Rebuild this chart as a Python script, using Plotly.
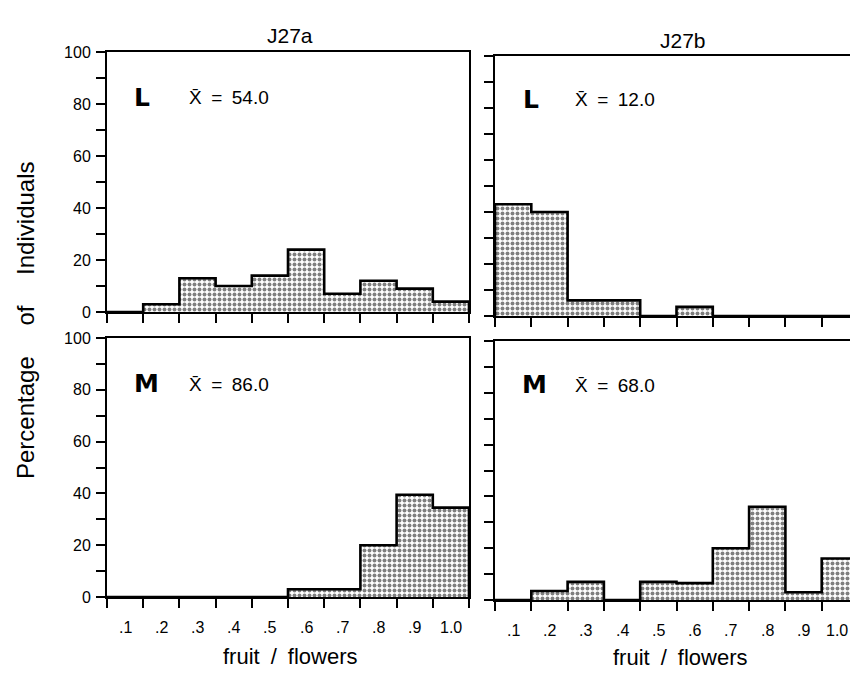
import plotly.graph_objects as go

# ---------------- data ----------------
bin_edges = [0.0, 0.1, 0.2, 0.3, 0.4, 0.5, 0.6, 0.7, 0.8, 0.9, 1.0]
bin_labels = [".1", ".2", ".3", ".4", ".5", ".6", ".7", ".8", ".9", "1.0"]
y_ticks = [0, 10, 20, 30, 40, 50, 60, 70, 80, 90, 100]
y_ticklabels = ["0", "", "20", "", "40", "", "60", "", "80", "", "100"]

j27a_L = [0, 3, 13, 10, 14, 24, 7, 12, 9, 4]
j27b_L = [43, 40, 6, 6, 0, 3.5, 0, 0, 0, 0]
j27a_M = [0, 0, 0, 0, 0, 3, 3, 20, 39.5, 34.5]
j27b_M = [0, 3.5, 7, 0, 7, 6.5, 20, 36, 3, 16]

column_titles = ["J27a", "J27b"]
means = {"J27a_L": "54.0", "J27b_L": "12.0", "J27a_M": "86.0", "J27b_M": "68.0"}

FONT = "Liberation Sans"
W, H, OFF = 842, 662, 8  # page = figure + 8px body margin on every side


def fx(x):
    return (x - OFF) / W


def fy(y):
    return 1 - (y - OFF) / H


centers = [(bin_edges[i] + bin_edges[i + 1]) / 2 for i in range(len(bin_edges) - 1)]


def outline(values):
    xs, ys = [bin_edges[0]], [0]
    for i, v in enumerate(values):
        xs += [bin_edges[i], bin_edges[i + 1]]
        ys += [v, v]
    xs.append(bin_edges[-1])
    ys.append(0)
    return xs, ys


panels = [
    (j27a_L, "x", "y"),
    (j27b_L, "x2", "y2"),
    (j27a_M, "x3", "y3"),
    (j27b_M, "x4", "y4"),
]

fig = go.Figure()
for vals, xa, ya in panels:
    fig.add_trace(go.Bar(
        x=centers, y=vals, width=0.1, xaxis=xa, yaxis=ya,
        marker=dict(color="white", line=dict(width=0),
                    pattern=dict(shape=".", fgcolor="black", bgcolor="white",
                                 size=5, solidity=0.5)),
        showlegend=False, hoverinfo="skip"))
    ox, oy = outline(vals)
    fig.add_trace(go.Scatter(
        x=ox, y=oy, mode="lines", xaxis=xa, yaxis=ya,
        line=dict(color="black", width=2.6), showlegend=False, hoverinfo="skip"))

# right column: x=0 at 495px, 0.1 per 36.3px; figure edge clips it
right_end = (850 - 495) / 363.0
x_dom = {"L": [fx(107), fx(469)], "R": [fx(495), 1.0]}
x_rng = {"L": [0, 1.0], "R": [0, right_end]}
y_dom = {
    "LT": [fy(312), fy(52)],
    "RT": [fy(316), fy(56)],
    "LB": [fy(597), fy(338)],
    "RB": [fy(600), fy(341)],
}

axis_common = dict(showgrid=False, zeroline=False, showline=True, linecolor="black",
                   linewidth=2, mirror=True, ticks="outside", ticklen=9, tickwidth=1.6,
                   tickcolor="black", automargin=False,
                   tickfont=dict(family=FONT, size=16, color="black"))

layout_axes = {}
names = [("xaxis", "yaxis", "L", "LT", "y", "x", True),
         ("xaxis2", "yaxis2", "R", "RT", "y2", "x2", False),
         ("xaxis3", "yaxis3", "L", "LB", "y3", "x3", True),
         ("xaxis4", "yaxis4", "R", "RB", "y4", "x4", False)]
for xn, yn, xd, yd, anchor_y, anchor_x, ylab in names:
    layout_axes[xn] = dict(axis_common, domain=x_dom[xd], anchor=anchor_y, range=x_rng[xd],
                           tickvals=bin_edges, showticklabels=False)
    layout_axes[yn] = dict(axis_common, domain=y_dom[yd], anchor=anchor_x, range=[0, 100],
                           tickvals=y_ticks, ticktext=y_ticklabels, showticklabels=ylab,
                           ticklabelstandoff=2)

fig.update_layout(**layout_axes)

ann = []
# x tick labels centred on bins for bottom panels
for xa, ya in [("x3", "y3"), ("x4", "y4")]:
    for i, (c, lab) in enumerate(zip(centers, bin_labels)):
        shift = -3 if (xa == "x4" and i == len(centers) - 1) else 0
        ann.append(dict(x=c, y=0, xref=xa, yref=ya, text=lab, showarrow=False,
                        xanchor="center", yanchor="middle", yshift=-30, xshift=shift,
                        font=dict(family=FONT, size=16, color="black")))

# panel letters and means (positions in page pixels)
panel_text = [
    (142, 97, 187, "L", means["J27a_L"]),
    (531, 99, 573, "L", means["J27b_L"]),
    (146, 383, 187, "M", means["J27a_M"]),
    (534, 384, 573, "M", means["J27b_M"]),
]
for lx, ly, mx, letter, m in panel_text:
    ann.append(dict(x=fx(lx), y=fy(ly), xref="paper", yref="paper", text="<b>" + letter + "</b>",
                    xanchor="center", yanchor="middle", showarrow=False,
                    font=dict(family="DejaVu Sans", size=25, color="black")))
    ann.append(dict(x=fx(mx), y=fy(ly + 1), xref="paper", yref="paper",
                    text="X\u0304\u2002=\u2002" + m, xanchor="left", yanchor="middle",
                    showarrow=False, font=dict(family=FONT, size=19, color="black")))

# column titles
ann.append(dict(x=fx(290), y=fy(35), xref="paper", yref="paper",
                xanchor="center", yanchor="middle",
                text=column_titles[0], showarrow=False,
                font=dict(family=FONT, size=21, color="black")))
ann.append(dict(x=fx(683), y=fy(40), xref="paper", yref="paper",
                xanchor="center", yanchor="middle",
                text=column_titles[1], showarrow=False,
                font=dict(family=FONT, size=21, color="black")))
# x titles
for xc, yc in [(290, 656), (680, 657)]:
    ann.append(dict(x=fx(xc), y=fy(yc), xref="paper", yref="paper",
                    xanchor="center", yanchor="middle",
                    text="fruit\u2002/\u2002flowers", showarrow=False,
                    font=dict(family=FONT, size=22, color="black")))
# y title
ann.append(dict(x=fx(25), y=fy(320), xref="paper", yref="paper", xanchor="center",
                yanchor="middle", text="Percentage\u2003 of\u2003 Individuals", textangle=-90,
                showarrow=False, font=dict(family=FONT, size=24, color="black")))

fig.update_layout(annotations=ann, width=W, height=H,
                  margin=dict(l=0, r=0, t=0, b=0, autoexpand=False),
                  paper_bgcolor="white", plot_bgcolor="white", bargap=0)

fig.write_html("out.html")
